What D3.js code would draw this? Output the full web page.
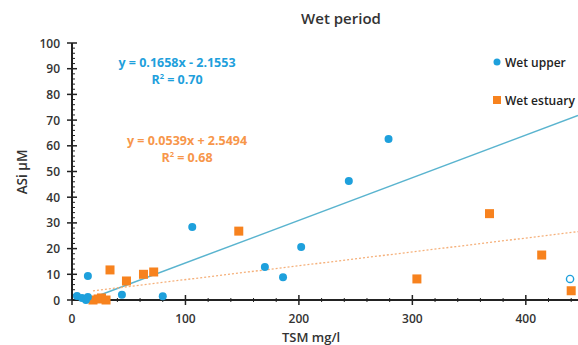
<!DOCTYPE html>
<html><head><meta charset="utf-8">
<script src="https://cdn.jsdelivr.net/npm/d3@7"></script>
<style>
body{margin:0;background:#fff;}
svg{display:block;font-family:"Open Sans","Noto Sans",sans-serif;}
</style></head>
<body><svg id="c" width="578" height="345"></svg>
<script>
// ---- data ----
const upperX = [4.4, 8.8, 12.3, 14, 14, 44, 80, 106, 170, 186, 202, 244, 279];
const upperY = [1.6, 0.8, 0, 1.2, 9.3, 2, 1.5, 28.4, 12.8, 8.9, 20.6, 46.3, 62.6];
const outlierX = [439];
const outlierY = [8.2];
const estuaryX = [18.5, 23, 26, 30, 33.5, 48, 63, 72, 147, 304, 368, 414, 440];
const estuaryY = [0, 0.4, 0.8, 0, 11.7, 7.4, 10, 10.9, 26.8, 8.2, 33.6, 17.5, 3.6];
const upperFit = {slope: 0.1658, intercept: -2.1553, label: "y = 0.1658x - 2.1553", r2: "0.70"};
const estuaryFit = {slope: 0.0539, intercept: 2.5494, label: "y = 0.0539x + 2.5494", r2: "0.68"};
const xTicks = [0, 100, 200, 300, 400];
const yTicks = [0, 10, 20, 30, 40, 50, 60, 70, 80, 90, 100];
const seriesNames = ["Wet upper", "Wet estuary"];
const title = "Wet period";
const xLabel = "TSM mg/l";
const yLabel = "ASi µM";

// ---- layout ----
const svg = d3.select("#c");
const x = d3.scaleLinear().domain([0, 446]).range([72, 578]);
const y = d3.scaleLinear().domain([0, 100]).range([300, 43]);
const blue = "#1ea0dc", orange = "#f7821e";
const txt = "#333";

// trend lines
function fitLine(f, x0, x1, color, dash) {
  svg.append("line")
    .attr("x1", x(x0)).attr("y1", y(f.slope * x0 + f.intercept))
    .attr("x2", x(x1)).attr("y2", y(f.slope * x1 + f.intercept))
    .attr("stroke", color).attr("stroke-width", dash ? 1.3 : 1.5)
    .attr("stroke-dasharray", dash || null);
}
fitLine(upperFit, 13, 446, "#5ab4cf", null);
fitLine(estuaryFit, d3.min(estuaryX), 446, "#f5b07a", "2,2");

// axes
const yAxis = svg.append("g");
yAxis.append("line").attr("x1", x(0)).attr("x2", x(0)).attr("y1", y(0)).attr("y2", y(100))
  .attr("stroke", "#222").attr("stroke-width", 2);
d3.range(0, 101, 2).forEach(v => {
  const major = v % 10 === 0;
  yAxis.append("line").attr("x1", x(0) - (major ? 5 : 0)).attr("x2", x(0) + (major ? 5 : 3))
    .attr("y1", y(v)).attr("y2", y(v)).attr("stroke", "#222").attr("stroke-width", major ? 1.5 : 1);
});
yAxis.selectAll("text.yt").data(yTicks).join("text")
  .attr("x", 60).attr("y", d => y(d) + 4.5).attr("text-anchor", "end")
  .attr("font-size", 12).attr("font-weight", 600).attr("fill", txt).text(d => d);

const xAxis = svg.append("g");
xAxis.append("line").attr("x1", x(0)).attr("x2", 578).attr("y1", y(0)).attr("y2", y(0))
  .attr("stroke", "#222").attr("stroke-width", 2);
d3.range(0, 446, 20).forEach(v => {
  const major = v % 100 === 0;
  xAxis.append("line").attr("x1", x(v)).attr("x2", x(v))
    .attr("y1", y(0) - (major ? 5 : 2)).attr("y2", y(0) + (major ? 5 : 2))
    .attr("stroke", "#222").attr("stroke-width", major ? 1.5 : 1);
});
xAxis.selectAll("text.xt").data(xTicks).join("text")
  .attr("x", d => x(d)).attr("y", 323).attr("text-anchor", "middle")
  .attr("font-size", 12).attr("font-weight", 600).attr("fill", txt).text(d => d);

// points
svg.selectAll("rect.est").data(estuaryX).join("rect")
  .attr("x", (d, i) => x(d) - 4.5).attr("y", (d, i) => y(estuaryY[i]) - 4.5)
  .attr("width", 9).attr("height", 9).attr("fill", orange);
svg.selectAll("circle.up").data(upperX).join("circle")
  .attr("cx", d => x(d)).attr("cy", (d, i) => y(upperY[i])).attr("r", 4).attr("fill", blue);
svg.selectAll("circle.out").data(outlierX).join("circle")
  .attr("cx", d => x(d)).attr("cy", (d, i) => y(outlierY[i])).attr("r", 3.6)
  .attr("fill", "#fff").attr("stroke", blue).attr("stroke-width", 1.4);

// equations
function eq(f, cx, cy, color) {
  svg.append("text").attr("x", cx).attr("y", cy).attr("text-anchor", "middle")
    .attr("font-size", 12.5).attr("font-weight", 700).attr("fill", color).text(f.label);
  const t = svg.append("text").attr("x", cx).attr("y", cy + 17).attr("text-anchor", "middle")
    .attr("font-size", 12.5).attr("font-weight", 700).attr("fill", color);
  t.append("tspan").text("R");
  t.append("tspan").attr("font-size", 7.5).attr("dy", -5).text("2");
  t.append("tspan").attr("dy", 5).text(" = " + f.r2);
}
eq(upperFit, 177, 67, "#1ea0dc");
eq(estuaryFit, 187, 145, "#f7964a");

// title
svg.append("text").attr("x", 341).attr("y", 24).attr("text-anchor", "middle")
  .attr("font-size", 15).attr("font-weight", 600).attr("fill", txt).text(title);

// legend
svg.append("circle").attr("cx", 497).attr("cy", 62).attr("r", 3.5).attr("fill", blue);
svg.append("text").attr("x", 505).attr("y", 66.5).attr("font-size", 12).attr("font-weight", 600)
  .attr("fill", "#222").text(seriesNames[0]);
svg.append("rect").attr("x", 493).attr("y", 96).attr("width", 8).attr("height", 8).attr("fill", orange);
svg.append("text").attr("x", 505).attr("y", 104.5).attr("font-size", 12).attr("font-weight", 600)
  .attr("fill", "#222").text(seriesNames[1]);

// axis labels
svg.append("text").attr("transform", "translate(27,172) rotate(-90)").attr("text-anchor", "middle")
  .attr("font-size", 13.5).attr("font-weight", 600).attr("fill", txt).text(yLabel);
svg.append("text").attr("x", 311).attr("y", 342).attr("text-anchor", "middle")
  .attr("font-size", 13).attr("font-weight", 600).attr("fill", txt).text(xLabel);
</script></body></html>
